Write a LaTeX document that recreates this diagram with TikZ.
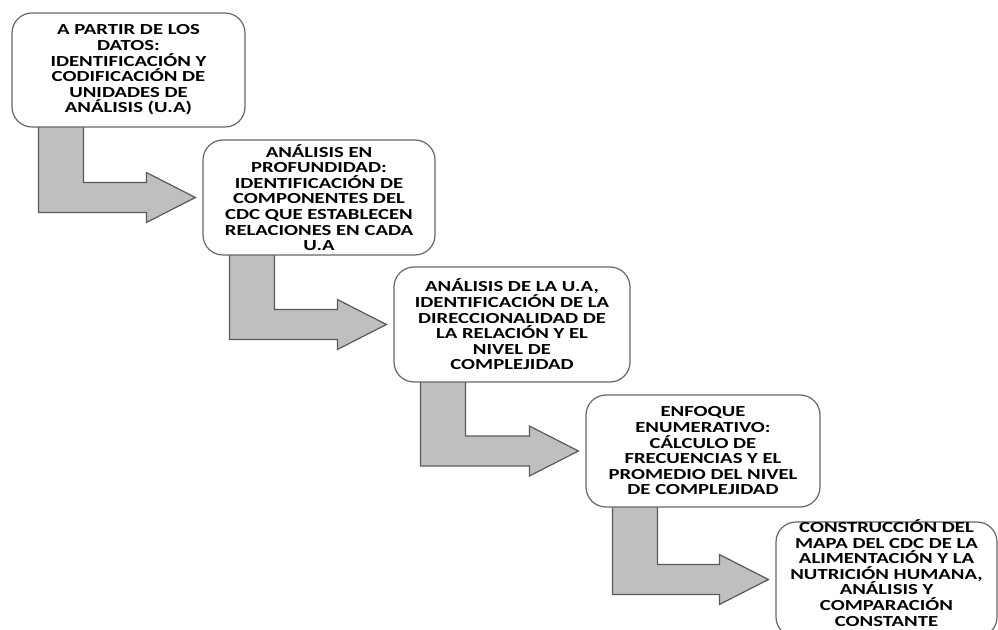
\documentclass[tikz,border=0pt]{standalone}
\usepackage{fontspec}
\setmainfont{Carlito}
\newfontfamily\boxfont{Carlito}[FakeStretch=1.35]
\usetikzlibrary{calc,backgrounds}

\tikzset{
  boxtext/.style={align=center, inner sep=0pt,
    font=\boxfont\bfseries\fontsize{11.5}{11.7}\selectfont},
  stepbox/.style={boxtext, draw=black!60, line width=0.9pt, fill=white,
    rounded corners=15pt},
  bentarrow/.style={draw=black!65, line width=0.9pt, fill=black!25,
    line join=miter}
}

% L-shaped block arrow from the bottom of #1 to the left side of #2
\newcommand{\bentlink}[2]{%
  \draw[bentarrow] let \p1=(#1.south west), \p2=(#2.west) in
    ({\x1+20.25pt},{\y1+3pt}) -- ({\x1+54pt},{\y1+3pt})
    -- ({\x1+54pt},{\y2+11.25pt}) -- ({\x2-42pt},{\y2+11.25pt})
    -- ({\x2-42pt},{\y2+18.75pt}) -- ({\x2-5.25pt},{\y2})
    -- ({\x2-42pt},{\y2-18.75pt}) -- ({\x2-42pt},{\y2-11.25pt})
    -- ({\x1+20.25pt},{\y2-11.25pt}) -- cycle;}

\begin{document}
\begin{tikzpicture}[x=0.75pt,y=-0.75pt]
\useasboundingbox (0,0) rectangle (998,630);

\node[stepbox, minimum width=174.75pt, minimum height=85.5pt] (s1) at (128.5,70)
  {A PARTIR DE LOS\\DATOS:\\IDENTIFICACIÓN Y\\CODIFICACIÓN DE\\UNIDADES DE\\ANÁLISIS (U.A)};
\node[stepbox, minimum width=174pt, minimum height=86.25pt] (s2) at (319,197.5)
  {ANÁLISIS EN\\PROFUNDIDAD:\\IDENTIFICACIÓN DE\\COMPONENTES DEL\\CDC QUE ESTABLECEN\\RELACIONES EN CADA\\U.A};
\node[stepbox, minimum width=177pt, minimum height=86.25pt] (s3) at (512,324.5)
  {ANÁLISIS DE LA U.A,\\IDENTIFICACIÓN DE LA\\DIRECCIONALIDAD DE\\LA RELACIÓN Y EL\\NIVEL DE\\COMPLEJIDAD};
\node[stepbox, minimum width=175.5pt, minimum height=84pt] (s4) at (703,451)
  {ENFOQUE\\ENUMERATIVO:\\CÁLCULO DE\\FRECUENCIAS Y EL\\PROMEDIO DEL NIVEL\\DE COMPLEJIDAD};
\node[stepbox, minimum width=165.75pt, minimum height=86.25pt] (s5) at (886.5,579.5) {};
\node[boxtext] (t5) at (886.5,573)
  {CONSTRUCCIÓN DEL\\MAPA DEL CDC DE LA\\ALIMENTACIÓN Y LA\\NUTRICIÓN HUMANA,\\ANÁLISIS Y\\COMPARACIÓN\\CONSTANTE};

\begin{scope}[on background layer]
  \bentlink{s1}{s2}
  \bentlink{s2}{s3}
  \bentlink{s3}{s4}
  \bentlink{s4}{s5}
\end{scope}
\end{tikzpicture}
\end{document}
